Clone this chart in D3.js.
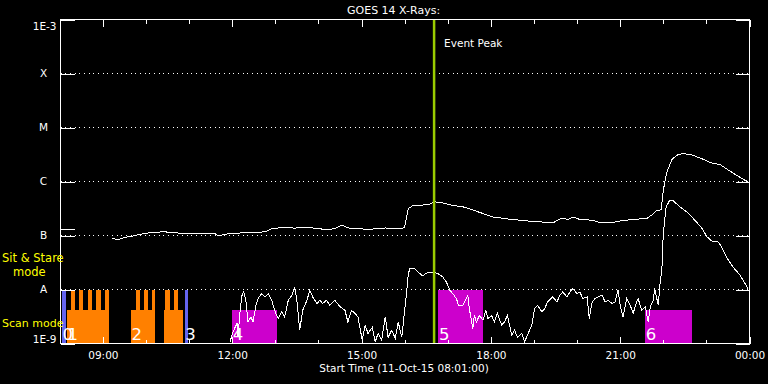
<!DOCTYPE html>
<html><head><meta charset="utf-8">
<script src="https://cdn.jsdelivr.net/npm/d3@7"></script>
<style>body{margin:0;background:#000}svg{display:block}</style>
</head><body><svg id="c" width="768" height="384"></svg>
<script>
// ---------- DATA ----------
const longTimes = ["08:01","08:11","08:21","08:45","09:13","09:21","09:31","09:45","09:59","10:12","10:26","10:40","10:58","11:18","11:36","11:40","11:50","12:14","12:32","12:46","12:55","13:13","13:27","13:41","13:59","14:13","14:23","14:33","14:41","14:55","15:09","15:19","15:33","15:42","15:56","16:00","16:05","16:12","16:21","16:35","16:42","16:53","17:07","17:21","17:34","17:49","18:03","18:27","18:50","19:08","19:26","19:39","19:47","19:54","20:04","20:21","20:32","20:50","21:00","21:18","21:37","21:44","21:51","21:57","22:00","22:05","22:12","22:19","22:27","22:41","22:55","23:09","23:19","23:33","23:47","23:58"];
const longFlux = [1.3e-7,1.3e-7,1.3e-7,null,8.8e-8,8.4e-8,9.2e-8,1.0e-7,1.1e-7,1.15e-7,1.17e-7,1.12e-7,1.09e-7,1.09e-7,1.09e-7,9.8e-8,1.06e-7,1.12e-7,1.14e-7,1.17e-7,1.35e-7,1.41e-7,1.37e-7,1.42e-7,1.35e-7,1.27e-7,1.35e-7,1.55e-7,1.38e-7,1.35e-7,1.29e-7,1.33e-7,1.38e-7,1.35e-7,1.35e-7,1.44e-7,3.16e-7,3.6e-7,3.6e-7,3.8e-7,4.2e-7,4.0e-7,3.6e-7,3.4e-7,3.0e-7,2.55e-7,2.2e-7,2.0e-7,1.86e-7,1.79e-7,1.71e-7,2.1e-7,1.98e-7,2.2e-7,1.98e-7,1.92e-7,1.74e-7,1.74e-7,1.86e-7,1.98e-7,2.07e-7,2.4e-7,2.9e-7,3.0e-7,6.9e-7,1.5e-6,2.55e-6,3.07e-6,3.3e-6,3.07e-6,2.6e-6,2.15e-6,2.07e-6,1.55e-6,1.19e-6,9.8e-7];

const shortTimes = ["11:57","12:01","12:07","12:08","12:11","12:14","12:16","12:19","12:22","12:26","12:29","12:33","12:36","12:41","12:46","12:50","12:55","12:59","13:04","13:09","13:13","13:18","13:23","13:27","13:30","13:34","13:38","13:44","13:48","13:52","13:58","14:02","14:06","14:11","14:16","14:23","14:30","14:37","14:41","14:46","14:51","14:55","15:01","15:05","15:09","15:15","15:19","15:23","15:28","15:33","15:37","15:42","15:47","15:51","15:56","16:00","16:03","16:05","16:07","16:14","16:21","16:25","16:32","16:40","16:46","16:53","16:58","17:03","17:07","17:12","17:15","17:21","17:26","17:28","17:30","17:35","17:37","17:40","17:44","17:49","17:53","17:56","18:01","18:05","18:09","18:15","18:19","18:23","18:29","18:33","18:37","18:43","18:47","18:51","18:57","19:01","19:05","19:11","19:15","19:19","19:26","19:32","19:36","19:40","19:46","19:50","19:54","20:00","20:04","20:08","20:14","20:17","20:21","20:25","20:29","20:35","20:39","20:43","20:49","20:53","20:57","21:00","21:04","21:09","21:14","21:18","21:23","21:25","21:30","21:35","21:39","21:42","21:46","21:48","21:53","21:55","21:58","22:00","22:04","22:09","22:13","22:23","22:33","22:44","22:54","23:01","23:09","23:16","23:21","23:28","23:37","23:47","23:51","23:58"];
const shortFlux = [1.07e-9,1.64e-9,2.4e-9,1.3e-9,4.1e-9,8.4e-9,9.0e-9,6.3e-9,2.5e-9,3.1e-9,2.5e-9,5.1e-9,6.8e-9,8.4e-9,7.3e-9,8.4e-9,6.3e-9,4.1e-9,2.9e-9,3.85e-9,3.1e-9,6.3e-9,7.8e-9,1.12e-8,6.3e-9,1.76e-9,4.1e-9,6.3e-9,9.7e-9,7.3e-9,5.5e-9,6.3e-9,5.5e-9,6.3e-9,5.1e-9,6.3e-9,4.8e-9,4.1e-9,2.5e-9,4.1e-9,3.6e-9,3.1e-9,1.15e-9,2.2e-9,1.53e-9,2.0e-9,1.07e-9,1.53e-9,1.15e-9,3.1e-9,1.3e-9,1.76e-9,1.24e-9,2.5e-9,1.3e-9,4.1e-9,9.7e-9,1.84e-8,2.45e-8,2.45e-8,1.98e-8,1.79e-8,2.07e-8,2.1e-8,1.98e-8,1.71e-8,1.38e-8,9.7e-9,8.4e-9,6.8e-9,5.1e-9,5.1e-9,6.8e-9,7.8e-9,4.45e-9,1.9e-9,3.3e-9,2.5e-9,3.3e-9,2.7e-9,4.1e-9,2.9e-9,3.3e-9,2.5e-9,3.6e-9,2.2e-9,2.5e-9,3.3e-9,1.43e-9,1.76e-9,1.3e-9,1.53e-9,1.07e-9,1.43e-9,2.2e-9,4.45e-9,5.1e-9,3.85e-9,4.45e-9,5.9e-9,7.3e-9,5.9e-9,7.8e-9,9.0e-9,7.3e-9,9.0e-9,1.04e-8,8.4e-9,9.0e-9,6.8e-9,7.3e-9,2.9e-9,5.9e-9,6.8e-9,7.3e-9,7.8e-9,5.9e-9,6.3e-9,5.5e-9,5.9e-9,9.7e-9,5.1e-9,3.1e-9,6.8e-9,5.1e-9,3.6e-9,5.9e-9,6.8e-9,4.1e-9,4.8e-9,2.5e-9,4.8e-9,6.3e-9,1.04e-8,5.1e-9,1.12e-8,2.3e-8,1.1e-7,3.4e-7,4.5e-7,4.5e-7,3.4e-7,2.7e-7,1.92e-7,1.35e-7,9.4e-8,7.6e-8,7.7e-8,6.2e-8,4.0e-8,2.6e-8,1.84e-8,1.49e-8,1.04e-8];

// observation blocks
const blockLabel = ["0","1","2","","3","4","5","6"];
const blockStart = ["08:03","08:10","09:39","10:25","10:54","12:00","16:47","21:35"];
const blockEnd   = ["08:08","09:09","10:13","10:52","10:59","13:03","17:49","22:40"];
const blockMode  = ["stare","scan","scan","scan","stare","scan","stare","scan"];
const blockKind  = ["other","orange","orange","orange","other","magenta","magenta","magenta"];
// sit & stare sub-intervals inside the orange scan blocks
const stareStart = ["08:16","08:27","08:39","08:50","09:03","09:46","09:57","10:08","10:27","10:39"];
const stareEnd   = ["08:21","08:33","08:45","08:57","09:09","09:52","10:03","10:13","10:33","10:45"];

const eventPeak = "16:41";
const decades = [1e-9,1e-8,1e-7,1e-6,1e-5,1e-4,1e-3];
const decadeLabels = ["1E-9","A","B","C","M","X","1E-3"];
const gridLevels = [1e-8,1e-7,1e-6,1e-5,1e-4];
const modeTop = {stare: 1e-8, scan: 4.2e-9};

// ---------- DRAW ----------
function T(s){ const [h,m] = s.split(":").map(Number); return new Date(2015,9,11,h,m); }
const svg = d3.select("#c");
const FONT = "'DejaVu Sans', sans-serif";
const x = d3.scaleTime().domain([T("08:01"), T("24:00")]).range([60.5, 749.5]);
const y = d3.scaleLog().domain([1e-9,1e-3]).range([343.5,19.5]).clamp(true);
const colors = {other:"#6464f0", orange:"#ff8000", magenta:"#cc00cc"};

svg.append("rect").attr("width",768).attr("height",384).attr("fill","#000");

// grid
svg.append("g").selectAll("line").data(gridLevels).join("line")
  .attr("x1",x.range()[0]).attr("x2",x.range()[1])
  .attr("y1",d=>y(d)).attr("y2",d=>y(d))
  .attr("stroke","#fff").attr("stroke-dasharray","1,3.67").attr("shape-rendering","crispEdges");

// blocks
const blocks = blockStart.map((s,i)=>({s:T(s), e:T(blockEnd[i]), mode:blockMode[i], kind:blockKind[i], label:blockLabel[i]}));
svg.append("g").selectAll("rect").data(blocks).join("rect")
  .attr("x",d=>x(d.s)).attr("width",d=>x(d.e)-x(d.s))
  .attr("y",d=>y(modeTop[d.mode])).attr("height",d=>y(1e-9)-y(modeTop[d.mode]))
  .attr("fill",d=>colors[d.kind]).attr("shape-rendering","crispEdges");
const stares = stareStart.map((s,i)=>({s:T(s), e:T(stareEnd[i])}));
svg.append("g").selectAll("rect").data(stares).join("rect")
  .attr("x",d=>x(d.s)).attr("width",d=>x(d.e)-x(d.s))
  .attr("y",y(modeTop.stare)).attr("height",y(modeTop.scan)-y(modeTop.stare)+1)
  .attr("fill",colors.orange).attr("shape-rendering","crispEdges");

// curves
const line = d3.line().defined(d=>d.v!=null).x(d=>x(d.t)).y(d=>y(d.v));
const longData = longTimes.map((t,i)=>({t:T(t), v:longFlux[i]}));
const shortData = shortTimes.map((t,i)=>({t:T(t), v:shortFlux[i]}));
[longData, shortData].forEach(dat=>{
  svg.append("path").datum(dat).attr("d",line).attr("fill","none")
    .attr("stroke","#fff").attr("stroke-width",1).attr("shape-rendering","crispEdges");
});

// block labels
svg.append("g").selectAll("text").data(blocks.filter(d=>d.label)).join("text")
  .attr("x",d=>x(d.s)+0.5).attr("y",340).text(d=>d.label)
  .attr("fill","#fff").attr("font-family",FONT).attr("font-size",16.5);

// event peak
svg.append("line").attr("x1",x(T(eventPeak))).attr("x2",x(T(eventPeak)))
  .attr("y1",y(1e-3)).attr("y2",y(1e-9)).attr("stroke","#99cc00").attr("stroke-width",2.5);
svg.append("text").attr("x",x(T(eventPeak))+10).attr("y",47).text("Event Peak")
  .attr("fill","#fff").attr("font-family",FONT).attr("font-size",10.5);

// axes
const hourTicks = d3.timeHour.range(T("09:00"), T("24:01"));
const isMajor = d=>d.getHours()%3===0;
const fmt = d3.timeFormat("%H:%M");
function styleAxis(g){
  g.attr("font-family",FONT).attr("font-size",10.5);
  g.select(".domain").remove();
  g.selectAll(".tick line").attr("stroke","#fff").attr("shape-rendering","crispEdges");
  g.selectAll(".tick text").attr("fill","#fff");
}
const gb = svg.append("g").attr("transform","translate(0,343.5)")
  .call(d3.axisBottom(x).tickValues(hourTicks).tickSize(-4).tickPadding(8).tickFormat(d=>isMajor(d)?fmt(d):""));
styleAxis(gb); gb.selectAll(".tick line").attr("y2",d=>isMajor(d)?-7:-4);
const gt = svg.append("g").attr("transform","translate(0,19.5)")
  .call(d3.axisTop(x).tickValues(hourTicks).tickSize(-4).tickFormat(""));
styleAxis(gt); gt.selectAll(".tick line").attr("y2",d=>isMajor(d)?7:4);
const gl = svg.append("g").attr("transform","translate(60.5,0)")
  .call(d3.axisLeft(y).tickValues(decades).tickSize(-14).tickPadding(4).tickFormat((d,i)=>decadeLabels[i]));
styleAxis(gl);
gl.selectAll(".tick text").each(function(d,i){
  const t = d3.select(this);
  if(i===0){ t.attr("x",-4).attr("dy","-0.1em").attr("text-anchor","end"); }
  else if(i===decades.length-1){ t.attr("x",-4).attr("dy","0.95em").attr("text-anchor","end"); }
  else { t.attr("x",-17).attr("text-anchor","middle"); }
});
const gr = svg.append("g").attr("transform","translate(749.5,0)")
  .call(d3.axisRight(y).tickValues(decades).tickSize(-14).tickFormat(""));
styleAxis(gr);

// frame
svg.append("rect").attr("x",60.5).attr("y",19.5).attr("width",689).attr("height",324)
  .attr("fill","none").attr("stroke","#fff").attr("shape-rendering","crispEdges");

// titles
svg.append("text").attr("x",347).attr("y",14).text("GOES 14 X-Rays:")
  .attr("fill","#fff").attr("font-family",FONT).attr("font-size",11);
svg.append("text").attr("x",404).attr("y",372).attr("text-anchor","middle").text("Start Time (11-Oct-15 08:01:00)")
  .attr("fill","#fff").attr("font-family",FONT).attr("font-size",10.5);
const yel = [["Sit & Stare",2,262,11.5],["mode",13,276,11.5],["Scan mode",2,327,11]];
svg.append("g").selectAll("text").data(yel).join("text")
  .attr("x",d=>d[1]).attr("y",d=>d[2]).text(d=>d[0])
  .attr("fill","#ffff00").attr("font-family",FONT).attr("font-size",d=>d[3]);
</script></body></html>
